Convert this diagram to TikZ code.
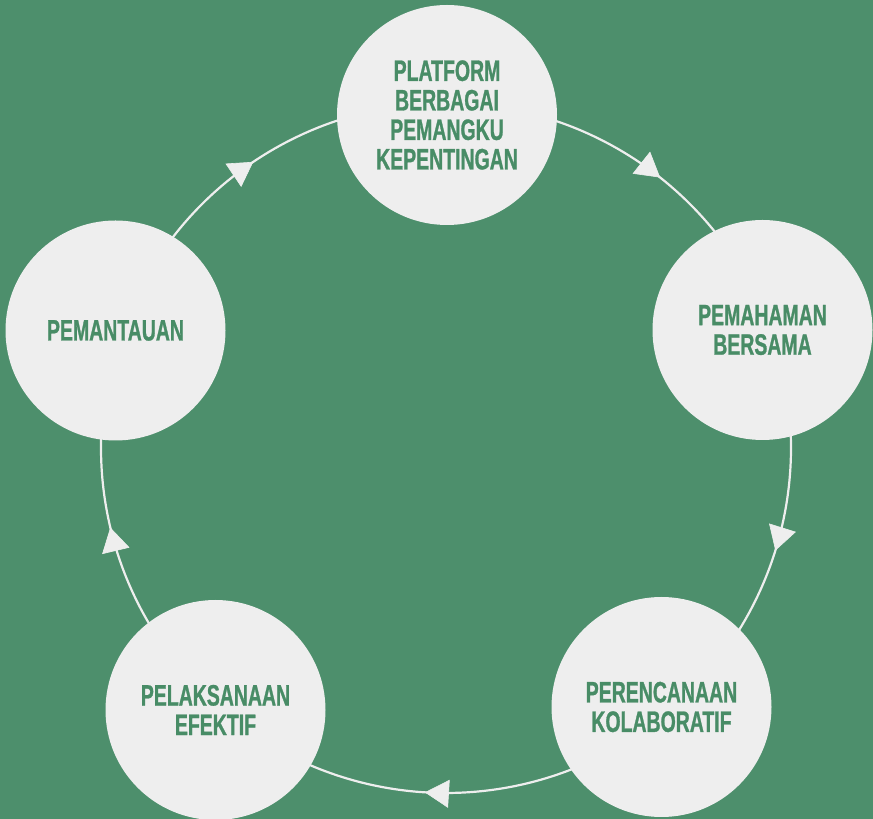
\documentclass[tikz,border=0pt]{standalone}
\usepackage{fontspec}
\newfontfamily\lab{Liberation Sans}[FakeStretch=0.66, BoldFeatures={FakeBold=0.9}]
\usetikzlibrary{arrows.meta,decorations.markings}
\definecolor{bgc}{RGB}{77,143,108}
\definecolor{disc}{RGB}{238,238,238}
\definecolor{txt}{RGB}{72,140,102}
\tikzset{
  stage/.style={circle, fill=disc, minimum size=220pt, inner sep=0pt, align=center,
    text=txt, font={\lab\bfseries\fontsize{29.5}{29.5}\selectfont}},
  ring/.style={draw=disc, line width=2.2pt},
  flow/.style={ring, postaction={decorate, decoration={markings,
    mark=at position #1 with {\arrow[disc, line width=0.6pt]{Triangle[length=24pt,width=28pt]}}}}}
}
\begin{document}
\begin{tikzpicture}[x=1pt,y=1pt]
\fill[bgc] (0,0) rectangle (873,819);
\useasboundingbox (0,0) rectangle (873,819);
\coordinate (O) at (446,371);
\coordinate (rTop) at ([shift={(89.8:345)}]O);
\coordinate (rRight) at ([shift={(20.4:345)}]O);
\coordinate (rBR) at ([shift={(-50.2:345)}]O);
\coordinate (rBL) at ([shift={(-131.3:345)}]O);
\coordinate (rLeft) at ([shift={(160.4:345)}]O);
\draw[flow=0.55] (rTop) arc[start angle=89.8, end angle=20.4, radius=345pt];
\draw[flow=0.534] (rRight) arc[start angle=20.4, end angle=-50.2, radius=345pt];
\draw[flow=0.534] (rBR) arc[start angle=-50.2, end angle=-131.3, radius=345pt];
\draw[flow=0.518] (rBL) arc[start angle=-131.3, end angle=-199.6, radius=345pt];
\draw[flow=0.516] (rLeft) arc[start angle=160.4, end angle=89.8, radius=345pt];
\node[stage] (top) at (447,704) {PLATFORM\\BERBAGAI\\PEMANGKU\\KEPENTINGAN};
\node[stage] (right) at (762.5,489) {PEMAHAMAN\\BERSAMA};
\node[stage] (br) at (661.5,112) {PERENCANAAN\\KOLABORATIF};
\node[stage] (bl) at (215.5,109) {PELAKSANAAN\\EFEKTIF};
\node[stage] (left) at (115.5,488.5) {PEMANTAUAN};
\end{tikzpicture}
\end{document}
